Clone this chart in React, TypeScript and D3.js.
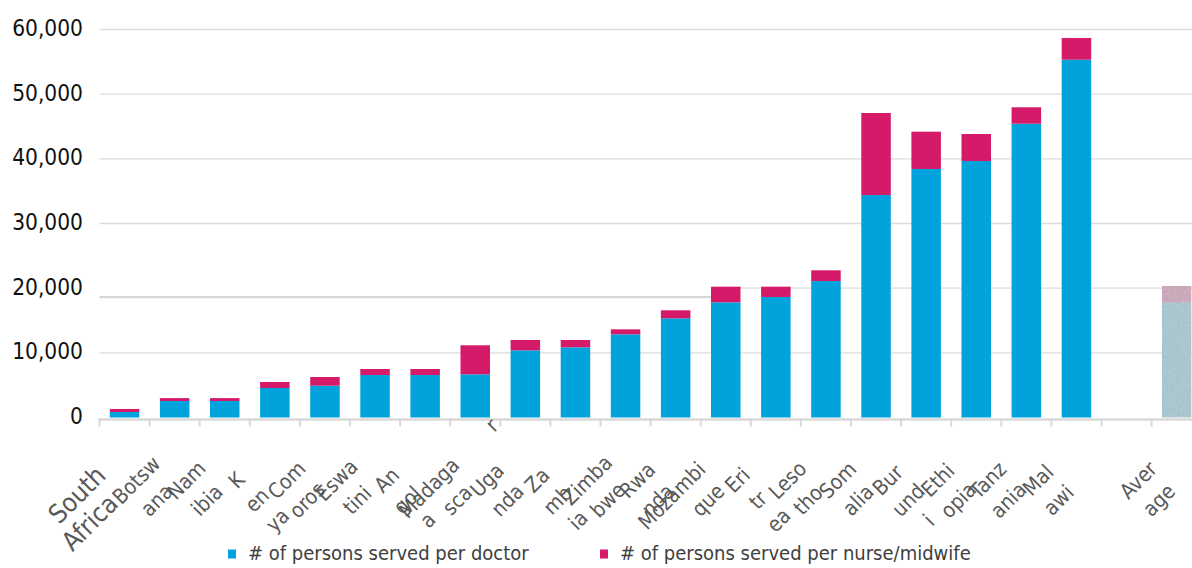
import React from "react";
import * as d3 from "d3";

// Persons served per health worker, by country
const categories = [
  "South Africa", "Botswana", "Namibia", "Kenya", "Comoros", "Eswatini", "Angola",
  "Madagascar", "Uganda", "Zambia", "Zimbabwe", "Rwanda", "Mozambique", "Eritrea",
  "Lesotho", "Somalia", "Burundi", "Ethiopia", "Tanzania", "Malawi", "gap", "Average",
];

// # of persons served per doctor
const doctorValues = [
  850, 2550, 2550, 4560, 4920, 6570, 6570, 6680, 10390, 10855, 12860, 15340,
  17810, 18630, 21100, 34400, 38430, 39660, 45430, 55330, null, 17810,
];

// # of persons served per nurse/midwife (stacked on top)
const nurseValues = [
  470, 450, 450, 930, 1340, 930, 930, 4485, 1595, 1130, 775, 1235,
  2420, 1600, 1660, 12690, 5770, 4180, 2540, 3360, null, 2520,
];

// Wrapped category labels as they are printed under the axis
const tickLabelLines = [
  ["South", "Africa"], ["Botsw", "ana"], ["Nam", "ibia"], ["K", "en", "ya"],
  ["Com", "oros"], ["Eswa", "tini"], ["An", "gol", "a"], ["Madaga", "sca"],
  ["Uga", "nda"], ["Za", "mb", "ia"], ["Zimba", "bwe"], ["Rwa", "nda"],
  ["Mozambi", "que"], ["Eri", "tr", "ea"], ["Leso", "tho"], ["Som", "alia"],
  ["Bur", "und", "i"], ["Ethi", "opia"], ["Tanz", "ania"], ["Mal", "awi"],
  [], ["Aver", "age"],
];
const strayFragment = { category: "Madagascar", text: "r" };

const yTicks = [0, 10000, 20000, 30000, 40000, 50000, 60000];
const referenceLevel = 18600;
const referenceEnd = "Mozambique";

const seriesNames = ["# of persons served per doctor", "# of persons served per nurse/midwife"];
const BLUE = "#02a3dc";
const PINK = "#d41a69";
const AVG_BLUE = "#a9c6cf";
const AVG_PINK = "#c9a9b9";

const W = 1192;
const H = 568;
const FONT = "'DejaVu Sans Condensed', 'DejaVu Sans', Verdana, sans-serif";
const C45 = Math.SQRT1_2;

function RotatedLabel(props: { cx: number; cy: number; size: number; text: string }) {
  const { cx, cy, size, text } = props;
  return (
    <text
      transform={`translate(${cx.toFixed(2)},${cy.toFixed(2)}) rotate(-45)`}
      y={size * 0.32}
      textAnchor="middle"
      fontSize={size}
      fill="#595959"
    >
      {text}
    </text>
  );
}

export default function App() {
  const left = 99.5;
  const step = 50.1;
  const x = d3
    .scaleBand<string>()
    .domain(categories)
    .range([left, left + categories.length * step])
    .paddingInner(0.411)
    .paddingOuter(0.2055);
  const y = d3.scaleLinear().domain([0, 60000]).range([417.5, 29.5]);
  const fmt = d3.format(",");
  const axisY = y(0) + 2;
  const boundary = (i: number) => left + i * x.step();
  const splitX = x(referenceEnd) as number;

  return (
    <svg
      width={W}
      height={H}
      style={{ position: "absolute", left: 0, top: 0, overflow: "hidden", background: "#fff" }}
      fontFamily={FONT}
    >
      <defs>
        <filter id="grain" x="0" y="0" width="100%" height="100%">
          <feTurbulence type="fractalNoise" baseFrequency="0.9" numOctaves="3" seed="7" result="noise" />
          <feColorMatrix
            in="noise"
            type="matrix"
            values="0.33 0.33 0.33 0 0 0.33 0.33 0.33 0 0 0.33 0.33 0.33 0 0 0 0 0 0 1"
            result="gray"
          />
          <feComposite in="SourceGraphic" in2="gray" operator="arithmetic" k1="0" k2="1" k3="0.35" k4="-0.17" result="mix" />
          <feComposite in="mix" in2="SourceGraphic" operator="in" />
        </filter>
      </defs>

      {/* gridlines */}
      {yTicks.filter((t) => t > 0).map((t) => (
        <line
          key={t}
          x1={t === 20000 ? splitX : left}
          x2={W}
          y1={y(t)}
          y2={y(t)}
          stroke="#dcdcdc"
          strokeWidth={1.4}
        />
      ))}
      <line x1={left} x2={splitX} y1={y(referenceLevel)} y2={y(referenceLevel)} stroke="#d6d6d6" strokeWidth={2.2} />

      {/* y tick labels */}
      {yTicks.map((t) => (
        <text key={t} x={83} y={y(t) - 1.5} dy="0.36em" textAnchor="end" fontSize={22.5} fill="#111">
          {fmt(t)}
        </text>
      ))}

      {/* stacked bars */}
      {categories.map((c, i) => {
        const d = doctorValues[i];
        const n = nurseValues[i];
        if (d == null || n == null) return null;
        const bx = x(c) as number;
        const bw = x.bandwidth();
        const isAvg = c === "Average";
        return (
          <g key={c} filter={isAvg ? "url(#grain)" : undefined}>
            <rect x={bx} y={y(d)} width={bw} height={y(0) - y(d)} fill={isAvg ? AVG_BLUE : BLUE} />
            <rect x={bx} y={y(d + n)} width={bw} height={y(d) - y(d + n)} fill={isAvg ? AVG_PINK : PINK} />
          </g>
        );
      })}

      {/* category axis */}
      <line x1={left - 1} x2={W} y1={axisY} y2={axisY} stroke="#d9d9d9" strokeWidth={2.5} />
      {categories.map((c, i) => (
        <line key={c} x1={boundary(i)} x2={boundary(i)} y1={axisY - 1} y2={axisY + 7} stroke="#d9d9d9" strokeWidth={2} />
      ))}

      {/* wrapped, rotated category labels */}
      {categories.map((c, i) => {
        const lines = tickLabelLines[i];
        if (!lines.length) return null;
        const big = i === 0;
        const scale = big ? 1.24 : 1;
        const cx0 = (x(c) as number) + x.bandwidth() / 2 - 38 * scale;
        const cy0 = axisY + 61 * scale;
        return (
          <g key={c}>
            {lines.map((ln, k) => {
              const s = Math.max(0, ln.length - 5) * 11;
              return (
                <RotatedLabel
                  key={k}
                  cx={cx0 - s * C45 + k * 20.5}
                  cy={cy0 + s * C45 + k * 20}
                  size={big ? 26 : 21}
                  text={ln}
                />
              );
            })}
            {c === strayFragment.category && (
              <RotatedLabel cx={cx0 - 8 + 89 * C45} cy={cy0 + 8 - 89 * C45} size={21} text={strayFragment.text} />
            )}
          </g>
        );
      })}

      {/* legend */}
      {seriesNames.map((name, i) => {
        const lx = i === 0 ? 228 : 600;
        return (
          <g key={name}>
            <rect x={lx} y={549.5} width={8} height={9} fill={i === 0 ? BLUE : PINK} />
            <text x={lx + 20} y={553} dy="0.35em" fontSize={20} fill="#404040">
              {name}
            </text>
          </g>
        );
      })}
    </svg>
  );
}
